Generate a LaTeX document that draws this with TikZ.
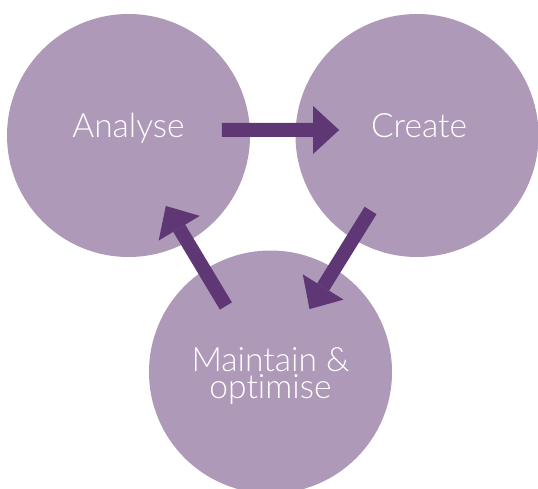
\documentclass[tikz,border=0pt]{standalone}
\usepackage{fontspec}
\setmainfont{Lato}[UprightFont=* Light,Ligatures={NoCommon}]
\usetikzlibrary{arrows.meta,calc}
\begin{document}
\begin{tikzpicture}[x=1pt,y=1pt,
  stage/.style={circle,fill=lilac,minimum size=243pt,inner sep=0pt},
  word/.style={text=white,font=\fontsize{33.5}{27}\selectfont,align=center,inner sep=0pt},
  flow/.style={draw=plum,line width=14pt,-{Triangle[length=26pt,width=48pt,line width=0pt]}}]
\definecolor{lilac}{HTML}{AE9AB8}
\definecolor{plum}{HTML}{5F3775}
\clip (0,0) rectangle (538,488);
\node [stage] (ana) at (128.5,352.5) {};
\node [stage] (cre) at (417,352.5) {};
\node [stage] (mnt) at (270.5,116) {};
\node [word,anchor=base] (ana-t) at ([yshift=-2.5]ana.center) {Analyse};
\node [word,anchor=base] (cre-t) at ([xshift=2,yshift=-2.5]cre.center) {Create};
\node [word] (mnt-t) at ([yshift=-4]mnt.center) {Maintain \&\\optimise};
\draw [flow] ($(ana)!.324!(cre)+(0,5.5)$) -- ($(ana)!.73!(cre)+(0,5.5)$);
\draw [flow] ($(cre)!.317!(mnt)$) -- ($(cre)!.734!(mnt)$);
\draw [flow] ($(mnt)!.288!(ana)+(-3.7,-2.1)$) -- ($(mnt)!.711!(ana)+(-3.7,-2.1)$);
\end{tikzpicture}
\end{document}
